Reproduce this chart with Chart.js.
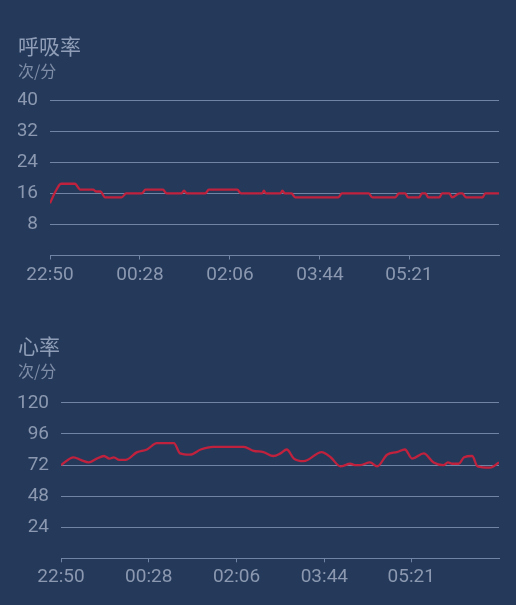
<!DOCTYPE html>
<html>
<head>
<meta charset="utf-8">
<script src="https://cdn.jsdelivr.net/npm/chart.js@4.4.0/dist/chart.umd.min.js"></script>
<style>
  html, body { margin: 0; padding: 0; background: #253a5b; }
  #wrap { position: relative; width: 516px; height: 605px; background: #253a5b; overflow: hidden; }
  .box { position: absolute; left: 0; width: 516px; }
  #b1 { top: 0; height: 300px; }
  #b2 { top: 300px; height: 305px; }
</style>
</head>
<body>
<div id="wrap">
  <div class="box" id="b1"><canvas id="c1"></canvas></div>
  <div class="box" id="b2"><canvas id="c2"></canvas></div>
</div>
<script>
// ---- data ----
const startTime = '22:50';
const endMinutes = 489;            // axis span (minutes after start)
const tickLabels = ['22:50', '00:28', '02:06', '03:44', '05:21'];

const respTitle = '呼吸率';
const hrTitle = '心率';
const unitLabel = '次/分';

const respTicks = [8, 16, 24, 32, 40];
const hrTicks = [24, 48, 72, 96, 120];

// minutes after 22:50
const respMinutes = [0, 6, 12, 27, 33, 47, 50, 55, 60, 78, 83, 100, 104, 123, 127, 143, 146, 149, 169, 173, 204, 208, 231, 233, 235, 251, 253, 256, 263, 267, 314, 318, 347, 351, 376, 380, 387, 390, 402, 405, 409, 412, 424, 427, 435, 438, 446, 449, 453, 471, 474, 489];
const respValues  = [13.5, 16.5, 18.5, 18.5, 17, 17, 16.5, 16.5, 15, 15, 16, 16, 17, 17, 16, 16, 16.7, 16, 16, 17, 17, 16, 16, 16.7, 16, 16, 16.7, 16, 16, 15, 15, 16, 16, 15, 15, 16, 16, 15, 15, 16, 16, 15, 15, 16, 16, 15, 16, 16, 15, 15, 16, 16];

const hrMinutes = [0, 14, 22, 31, 40, 48, 54, 59, 65, 72, 85, 96, 107, 126, 133, 144, 156, 170, 193, 204, 215, 226, 237, 245, 252, 260, 271, 291, 301, 312, 323, 328, 334, 345, 353, 364, 375, 384, 392, 405, 416, 427, 432, 437, 444, 450, 459, 465, 479, 489];
const hrValues   = [72, 78, 76, 74, 77, 79, 77, 78, 76, 76, 82, 84, 89, 89, 81, 80, 84, 86, 86, 86, 83, 82, 79, 81, 84, 77, 75, 82, 78, 71, 73, 72, 72, 74, 71, 80, 82, 84, 77, 81, 74, 72, 74, 73, 73, 78, 79, 71, 70, 74];

// ---- helpers ----
function toMin(label) {
  const [sh, sm] = startTime.split(':').map(Number);
  const [h, m] = label.split(':').map(Number);
  let d = (h * 60 + m) - (sh * 60 + sm);
  if (d < 0) d += 1440;
  return d;
}
const tickMinutes = tickLabels.map(toMin);

const FONT = "Roboto, 'Noto Sans CJK SC', sans-serif";
const CJK = "'Noto Sans CJK SC', Roboto, sans-serif";
const TICK_COLOR = '#8b98b0';
const GRID_COLOR = '#7284a4';
const LINE_COLOR = '#c0223e';

function makeChart(id, title, minutes, values, yTicks, yWidth, padTop, subPadBottom, padBottom) {
  const yMax = yTicks[yTicks.length - 1];
  const step = yTicks[1] - yTicks[0];
  return new Chart(document.getElementById(id), {
    type: 'line',
    data: {
      datasets: [{
        data: minutes.map((m, i) => ({ x: m, y: values[i] })),
        borderColor: LINE_COLOR,
        borderWidth: 2.3,
        pointRadius: 0,
        cubicInterpolationMode: 'monotone',
        fill: false
      }]
    },
    options: {
      responsive: true,
      maintainAspectRatio: false,
      animation: false,
      events: [],
      layout: { padding: { left: 18, right: 17, top: 0, bottom: padBottom } },
      plugins: {
        legend: { display: false },
        tooltip: { enabled: false },
        title: {
          display: true, text: title, align: 'start', color: '#909eb7',
          font: { family: CJK, size: 21, weight: 'normal' },
          padding: { top: padTop, bottom: 0 }
        },
        subtitle: {
          display: true, text: unitLabel, align: 'start', color: '#7f8da7',
          font: { family: CJK, size: 16, weight: 'normal' },
          padding: { top: 3, bottom: subPadBottom }
        }
      },
      scales: {
        x: {
          type: 'linear',
          min: 0, max: endMinutes,
          afterBuildTicks: s => { s.ticks = tickMinutes.map(v => ({ value: v })); },
          afterFit: s => { s.height = 30; },
          ticks: {
            color: TICK_COLOR, padding: 4, maxRotation: 0, autoSkip: false,
            font: { family: FONT, size: 19 },
            callback: (v, i) => tickLabels[i]
          },
          grid: { drawOnChartArea: false, drawTicks: true, tickLength: 4, color: GRID_COLOR },
          border: { display: true, color: GRID_COLOR, width: 1 }
        },
        y: {
          min: 0, max: yMax,
          afterBuildTicks: s => { s.ticks = [0].concat(yTicks).map(v => ({ value: v })); },
          afterFit: s => { s.width = yWidth; },
          ticks: {
            color: TICK_COLOR, padding: 12, stepSize: step,
            font: { family: FONT, size: 19 },
            callback: v => (v === 0 ? '' : String(v))
          },
          grid: { drawTicks: false, color: GRID_COLOR, lineWidth: 1 },
          border: { display: false }
        }
      }
    }
  });
}

makeChart('c1', respTitle, respMinutes, respValues, respTicks, 32, 33, 20, 14.5);
makeChart('c2', hrTitle, hrMinutes, hrValues, hrTicks, 43, 33, 22.5, 16.7);
</script>
</body>
</html>
